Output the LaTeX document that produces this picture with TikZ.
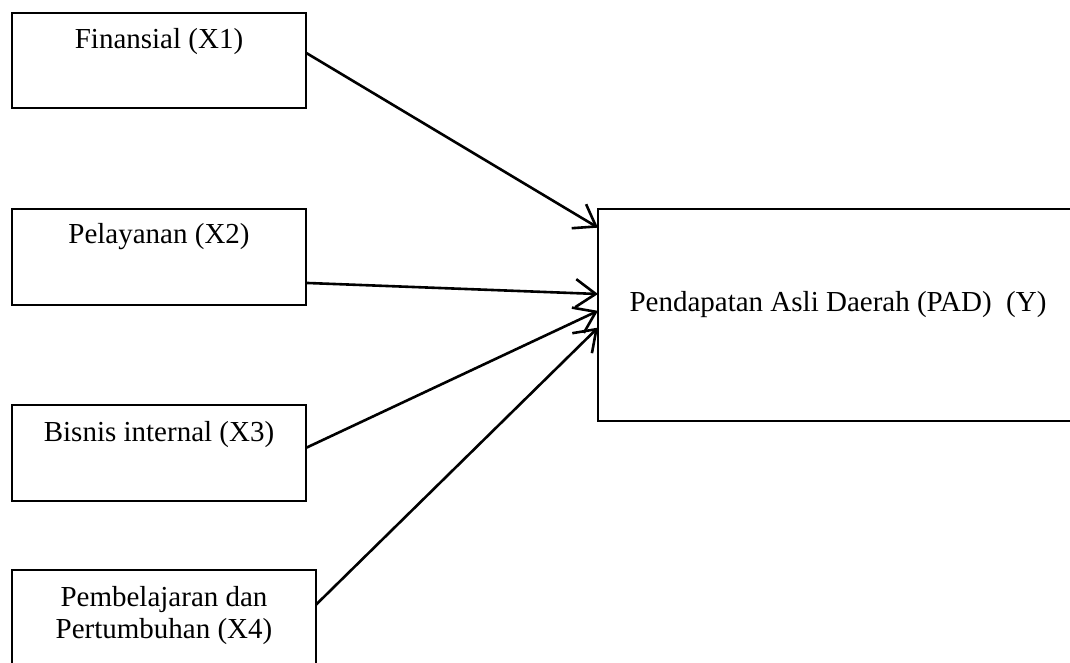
\documentclass[tikz,border=0pt]{standalone}
\usepackage{fontspec}
\setmainfont{Liberation Serif}
\usetikzlibrary{arrows.meta}

\tikzset{
  varbox/.style={draw,line width=1.5pt,inner sep=0pt,outer sep=0pt},
  link/.style={line width=2.6pt,-{Straight Barb[length=20pt,width=28pt]}}
}

\begin{document}
\begin{tikzpicture}[x=1pt,y=-1pt,font=\fontsize{29}{32}\selectfont]
  \useasboundingbox (0,0) rectangle (1070,662);
  \clip (0,0) rectangle (1070,662);

  \node (x1) at (159,60.5) [varbox,minimum width=294pt,minimum height=95pt,
    label={[anchor=center,yshift=-29pt]north:Finansial (X1)}]{};
  \node (x2) at (159,257) [varbox,minimum width=294pt,minimum height=96pt,
    label={[anchor=center,yshift=-28pt]north:Pelayanan (X2)}]{};
  \node (x3) at (159,453) [varbox,minimum width=294pt,minimum height=96pt,
    label={[anchor=center,yshift=-30pt]north:Bisnis internal (X3)}]{};
  \node (x4) at (164,618) [varbox,minimum width=304pt,minimum height=96pt,
    label={[anchor=center,align=center,yshift=-46pt]north:Pembelajaran dan\\Pertumbuhan (X4)}]{};

  \node (y) at (838,315) [varbox,minimum width=480pt,minimum height=212pt,
    label={[anchor=center,yshift=10pt]center:Pendapatan Asli Daerah (PAD)~~(Y)}]{};


  \draw[link] (x1.3.3) -- (y.160.9);
  \draw[link] (x2.-10.4) -- (y.175.2);
  \draw[link] (x3.2.3) -- (y.179.3);
  \draw[link] (x4.5.3) -- (y.183.6);

\end{tikzpicture}
\end{document}
